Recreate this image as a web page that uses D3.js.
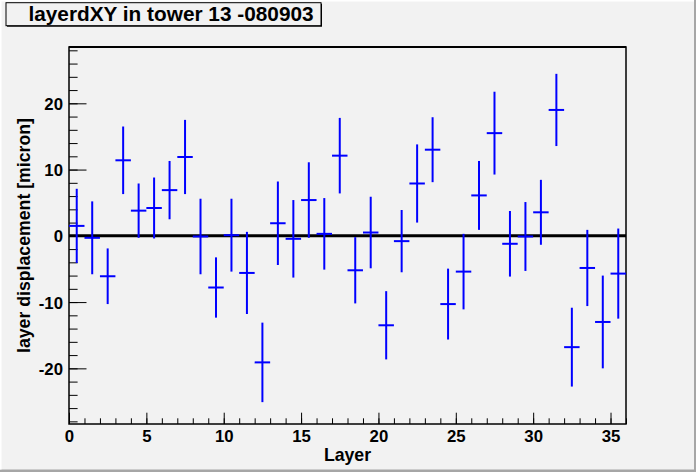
<!DOCTYPE html>
<html><head><meta charset="utf-8">
<script src="https://cdn.jsdelivr.net/npm/d3@7"></script>
<style>
html,body{margin:0;padding:0;background:#f2f2f2;}
svg{display:block;font-family:"Liberation Sans",Arial,Helvetica,sans-serif;font-weight:bold;}
</style></head>
<body>
<script>
// ---- data ----
const titleText = "layerdXY in tower 13 -080903";
const xTitle = "Layer";
const yTitle = "layer displacement [micron]";
const layers = d3.range(36).map(i => i + 0.5);
const values = [1.5, -0.3, -6.1, 11.4, 3.8, 4.2, 6.9, 11.9, -0.1, -7.8, 0.1, -5.6,
  -19.1, 1.9, -0.45, 5.4, 0.3, 12.1, -5.2, 0.5, -13.5, -0.8, 7.9, 13.0,
  -10.3, -5.4, 6.1, 15.5, -1.2, -0.1, 3.55, 19.0, -16.8, -4.85, -13.0, -5.7];
const errors = [5.6, 5.5, 4.2, 5.1, 4.1, 4.6, 4.4, 5.6, 5.7, 4.55, 5.5, 6.2,
  6.0, 6.3, 5.85, 5.7, 5.4, 5.7, 5.0, 5.4, 5.15, 4.7, 5.9, 4.9,
  5.35, 5.7, 5.2, 6.25, 4.95, 5.2, 4.9, 5.45, 5.95, 5.75, 7.0, 6.8];
const xTicks = [0, 5, 10, 15, 20, 25, 30, 35];
const yTicks = [-20, -10, 0, 10, 20];
const xDomain = [0, 36];
const yDomain = [-28.4, 28.5];

// ---- layout ----
const W = 696, H = 472;
const L = 69, R = 626, T = 47, B = 424;
const FONT = "Liberation Sans, Arial, sans-serif";
const fmt = d => String(d); // plain hyphen minus, as in the reference

const svg = d3.select("body").append("svg").attr("width", W).attr("height", H);
svg.append("rect").attr("width", W).attr("height", H).attr("fill", "#f2f2f2");
// canvas bevel
svg.append("rect").attr("x", W - 2).attr("y", 0).attr("width", 2).attr("height", H).attr("fill", "#a6a6a6");
svg.append("rect").attr("x", 0).attr("y", H - 2.5).attr("width", W).attr("height", 2.5).attr("fill", "#a6a6a6");
svg.append("rect").attr("x", 0).attr("y", 0).attr("width", 1.5).attr("height", H - 2.5).attr("fill", "#ffffff");
svg.append("rect").attr("x", 0).attr("y", 0).attr("width", W - 2).attr("height", 1.5).attr("fill", "#ffffff");

const x = d3.scaleLinear().domain(xDomain).range([L, R]);
const y = d3.scaleLinear().domain(yDomain).range([B, T]);

// x axis
const xAxisMajor = d3.axisBottom(x).tickValues(xTicks).tickSize(-11.3).tickPadding(0).tickFormat(fmt);
const xAxisMinor = d3.axisBottom(x).tickValues(d3.range(0, 37, 1)).tickSize(-5.7).tickFormat("");
const gxm = svg.append("g").attr("transform", `translate(0,${B})`).call(xAxisMinor);
const gx = svg.append("g").attr("transform", `translate(0,${B})`).call(xAxisMajor);
[gx, gxm].forEach(g => { g.select(".domain").remove(); g.selectAll("line").attr("stroke", "#000").attr("stroke-width", 1); });
gx.selectAll("text").attr("y", 18).attr("dy", 0).attr("fill", "#000")
  .attr("font-size", 16.8).attr("font-weight", "bold").attr("font-family", FONT);

// y axis
const yAxisMajor = d3.axisLeft(y).tickValues(yTicks).tickSize(-17.5).tickPadding(0).tickFormat(fmt);
const yAxisMinor = d3.axisLeft(y).tickValues(d3.range(-28, 29, 2)).tickSize(-8.6).tickFormat("");
const gym = svg.append("g").attr("transform", `translate(${L},0)`).call(yAxisMinor);
const gy = svg.append("g").attr("transform", `translate(${L},0)`).call(yAxisMajor);
[gy, gym].forEach(g => { g.select(".domain").remove(); g.selectAll("line").attr("stroke", "#000").attr("stroke-width", 1); });
gy.selectAll("text").attr("x", -6).attr("dy", "0.36em").attr("fill", "#000")
  .attr("font-size", 16.8).attr("font-weight", "bold").attr("font-family", FONT);

// zero line
svg.append("line").attr("x1", x(xDomain[0])).attr("x2", x(xDomain[1]))
  .attr("y1", y(0)).attr("y2", y(0)).attr("stroke", "#000").attr("stroke-width", 3);

// frame
svg.append("rect").attr("x", L).attr("y", T).attr("width", R - L).attr("height", B - T)
  .attr("fill", "none").attr("stroke", "#000").attr("stroke-width", 1.5);
svg.append("line").attr("x1", L).attr("x2", R).attr("y1", T).attr("y2", T).attr("stroke", "#000").attr("stroke-width", 2);

// data points with error bars
const pts = layers.map((l, i) => ({ l, v: values[i], e: errors[i] }));
const g = svg.append("g").attr("stroke", "#0000ff").attr("stroke-width", 2).attr("fill", "none");
g.selectAll("line.v").data(pts).join("line").attr("class", "v")
  .attr("x1", d => x(d.l)).attr("x2", d => x(d.l))
  .attr("y1", d => y(d.v - d.e)).attr("y2", d => y(d.v + d.e));
g.selectAll("line.h").data(pts).join("line").attr("class", "h")
  .attr("x1", d => x(d.l - 0.5)).attr("x2", d => x(d.l + 0.5))
  .attr("y1", d => y(d.v)).attr("y2", d => y(d.v));

// axis titles
svg.append("text").attr("x", (L + R) / 2).attr("y", 460.5).attr("text-anchor", "middle")
  .attr("font-size", 17.7).attr("fill", "#000").text(xTitle);
svg.append("text").attr("transform", `translate(29.5,${(T + B) / 2}) rotate(-90)`).attr("text-anchor", "middle")
  .attr("font-size", 17.7).attr("fill", "#000").text(yTitle);

// title box
svg.append("rect").attr("x", 7).attr("y", 3.7).attr("width", 315).attr("height", 23).attr("fill", "#000");
svg.append("rect").attr("x", 6).attr("y", 2.7).attr("width", 315).attr("height", 23)
  .attr("fill", "#f2f2f2").attr("stroke", "#000").attr("stroke-width", 1);
svg.append("text").attr("x", 171).attr("y", 20.7).attr("text-anchor", "middle")
  .attr("font-size", 20.8).attr("fill", "#000").text(titleText);
</script>
</body></html>
